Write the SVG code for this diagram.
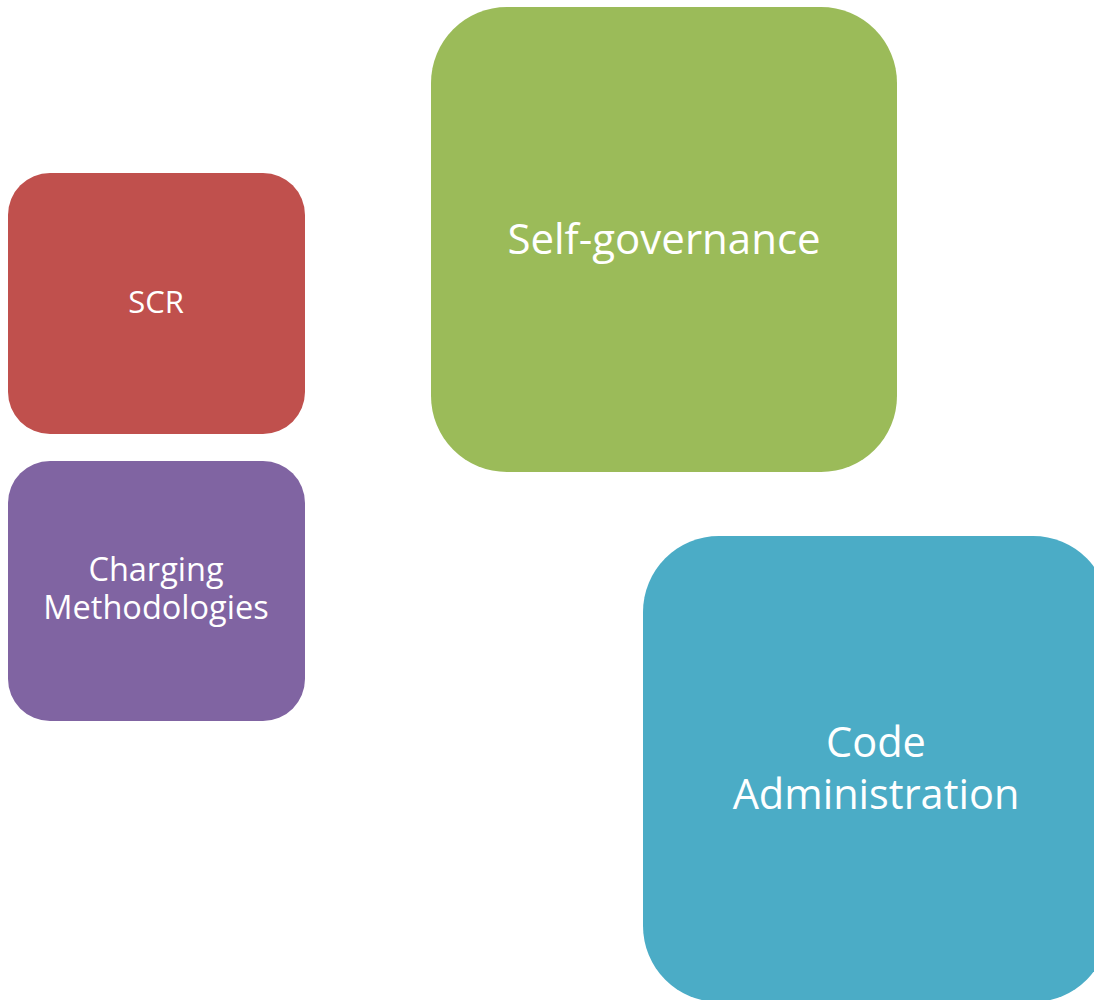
<svg xmlns="http://www.w3.org/2000/svg" width="1094" height="1000" viewBox="0 0 1094 1000">
<style>
.lbl{fill:#ffffff;font-family:"Open Sans","Noto Sans","Liberation Sans",sans-serif;text-anchor:middle}
</style>
<rect width="1094" height="1000" fill="#ffffff"/>
<g id="connectors"></g>
<g id="node-green">
<rect x="431" y="7" width="466" height="465" rx="76" ry="76" fill="#9BBB59"/>
<text class="lbl" x="664" y="254" font-size="42">Self-governance</text>
</g>
<g id="node-red">
<rect x="8" y="173" width="297" height="261" rx="42" ry="42" fill="#C0504D"/>
<text class="lbl" x="156" y="313" font-size="31">SCR</text>
</g>
<g id="node-purple">
<rect x="8" y="461" width="297" height="260" rx="42" ry="42" fill="#8064A2"/>
<text class="lbl" x="156" y="581" font-size="32.5">Charging</text>
<text class="lbl" x="156" y="619" font-size="32.5">Methodologies</text>
</g>
<g id="node-blue">
<rect x="643" y="536" width="466" height="466" rx="76" ry="76" fill="#4BACC6"/>
<text class="lbl" x="876" y="757" font-size="41.5">Code</text>
<text class="lbl" x="876" y="809" font-size="41.5">Administration</text>
</g>
</svg>
